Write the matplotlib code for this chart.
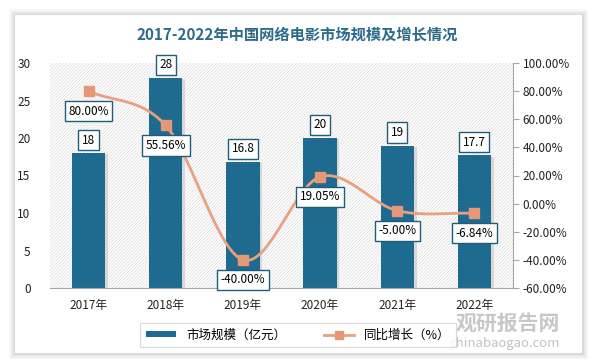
import numpy as np
import matplotlib
matplotlib.use("Agg")
import matplotlib.pyplot as plt
from matplotlib.patches import Rectangle
from matplotlib.lines import Line2D
import matplotlib.patheffects as pe

plt.rcParams['font.family'] = ['Noto Sans CJK SC', 'DejaVu Sans']
plt.rcParams['hatch.linewidth'] = 0.6

years = ['2017年', '2018年', '2019年', '2020年', '2021年', '2022年']
scale = [18, 28, 16.8, 20, 19, 17.7]
growth = [80.00, 55.56, -40.00, 19.05, -5.00, -6.84]
scale_labels = ['18', '28', '16.8', '20', '19', '17.7']

bar_color = '#1f6a8f'
line_color = '#e9a07f'
box_color = '#1f5d7a'

fig = plt.figure(figsize=(5.93, 3.64), dpi=100)
fig.patch.set_facecolor('#ffffff')

# card with a soft shadow
for i, a in enumerate([0.03, 0.03, 0.04, 0.05]):
    d = (4 - i) * 1.5
    fig.patches.append(Rectangle(((15 - d) / 593, (364 - 353 - d) / 364),
                                 (567 + 2 * d) / 593, (338 + 2 * d) / 364,
                                 transform=fig.transFigure, facecolor='black',
                                 alpha=a, edgecolor='none', zorder=0))
fig.patches.append(Rectangle((15 / 593, (364 - 353) / 364), 567 / 593, 338 / 364,
                             transform=fig.transFigure, facecolor='white',
                             edgecolor='none', zorder=0.5))

ax = fig.add_axes([50 / 593, (364 - 288) / 364, 463 / 593, 225 / 364])
ax.set_zorder(1)
ax.patch.set_visible(False)
ax.add_patch(Rectangle((0, 0), 1, 1, transform=ax.transAxes, facecolor='white',
                       hatch='//////////', edgecolor='#e0e0e0', linewidth=0, zorder=0))

x = np.arange(len(years))
bars = ax.bar(x, scale, width=0.43, color=bar_color, zorder=2,
              path_effects=[pe.SimplePatchShadow(offset=(2, -1), alpha=0.25, shadow_rgbFace='#888888'),
                            pe.Normal()])
ax.set_ylim(0, 30)
ax.set_yticks(range(0, 31, 5))
ax.set_xlim(-0.5, len(years) - 0.5)
ax.set_xticks(x)
ax.set_xticklabels(years)
for s in ['top', 'left', 'right']:
    ax.spines[s].set_visible(False)
ax.spines['bottom'].set_color('#a6a6a6')
ax.tick_params(axis='both', length=0, labelsize=8.5, colors='#222222')
ax.tick_params(axis='x', pad=8)
ax.tick_params(axis='y', pad=14)

label_box = dict(boxstyle='square,pad=0.3', facecolor='white', edgecolor=box_color, linewidth=1)
for xi, v, t in zip(x, scale, scale_labels):
    ax.annotate(t, (xi, v), xytext=(0, 13), textcoords='offset pixels',
                ha='center', va='center', fontsize=8.5, bbox=label_box, zorder=5)

ax2 = ax.twinx()
ax2.set_zorder(2)
ax2.set_ylim(-60, 100)
ax2.set_yticks(range(-60, 101, 20))
ax2.set_yticklabels(['%.2f%%' % v for v in range(-60, 101, 20)])
for s in ['top', 'left', 'bottom']:
    ax2.spines[s].set_visible(False)
ax2.spines['right'].set_color('#a6a6a6')
ax2.tick_params(axis='y', length=4, labelsize=8.5, colors='#a6a6a6', labelcolor='#222222', pad=3)

# smoothed line through the points (Catmull-Rom)
gx = np.array(x, dtype=float)
gy = np.array(growth, dtype=float)
px = np.concatenate([[2 * gx[0] - gx[1]], gx, [2 * gx[-1] - gx[-2]]])
py = np.concatenate([[2 * gy[0] - gy[1]], gy, [2 * gy[-1] - gy[-2]]])
sx, sy = [], []
t = np.linspace(0, 1, 30)
for i in range(1, len(px) - 2):
    for arr, out in ((px, sx), (py, sy)):
        p0, p1, p2, p3 = arr[i - 1], arr[i], arr[i + 1], arr[i + 2]
        out.extend(0.5 * (2 * p1 + (-p0 + p2) * t + (2 * p0 - 5 * p1 + 4 * p2 - p3) * t ** 2
                          + (-p0 + 3 * p1 - 3 * p2 + p3) * t ** 3))
ax2.plot(sx, sy, color=line_color, lw=2, zorder=3)
ax2.plot(gx, gy, 's', color='#e59776', ms=6.5, zorder=4)
for xi, v in zip(gx, gy):
    ax2.annotate('%.2f%%' % v, (xi, v), xytext=(0, -20), textcoords='offset pixels',
                 ha='center', va='center', fontsize=8.5, bbox=label_box, zorder=6)

fig.text(297 / 593, 1 - 35 / 364, '2017-2022年中国网络电影市场规模及增长情况',
         ha='center', va='center', fontsize=11, fontweight='bold', color='#2e6b8a')

handles = [Rectangle((0, 0), 1, 1, facecolor=bar_color),
           Line2D([0], [0], color=line_color, lw=2, marker='s', ms=6, markerfacecolor='#e59776',
                  markeredgecolor='#e59776')]
leg = fig.legend(handles, ['市场规模（亿元）', '同比增长（%）'], loc='center',
                 bbox_to_anchor=(298 / 593, 1 - 335 / 364), ncol=2, fontsize=9,
                 frameon=True, fancybox=False, edgecolor='#d0d0d0', handlelength=2.4,
                 handleheight=0.35, columnspacing=3.0, borderpad=0.45)
leg.get_frame().set_linewidth(0.8)

# watermark
fig.text(508 / 593, 1 - 323 / 364, '观研报告网', ha='center', va='center', fontsize=15,
         fontweight='bold', color='#9a9a9a', alpha=0.55)
fig.text(505 / 593, 1 - 344 / 364, 'chinabaogao.com', ha='center', va='center', fontsize=9.5,
         color='#9a9a9a', alpha=0.6)

fig.savefig('out.png', dpi=100)
